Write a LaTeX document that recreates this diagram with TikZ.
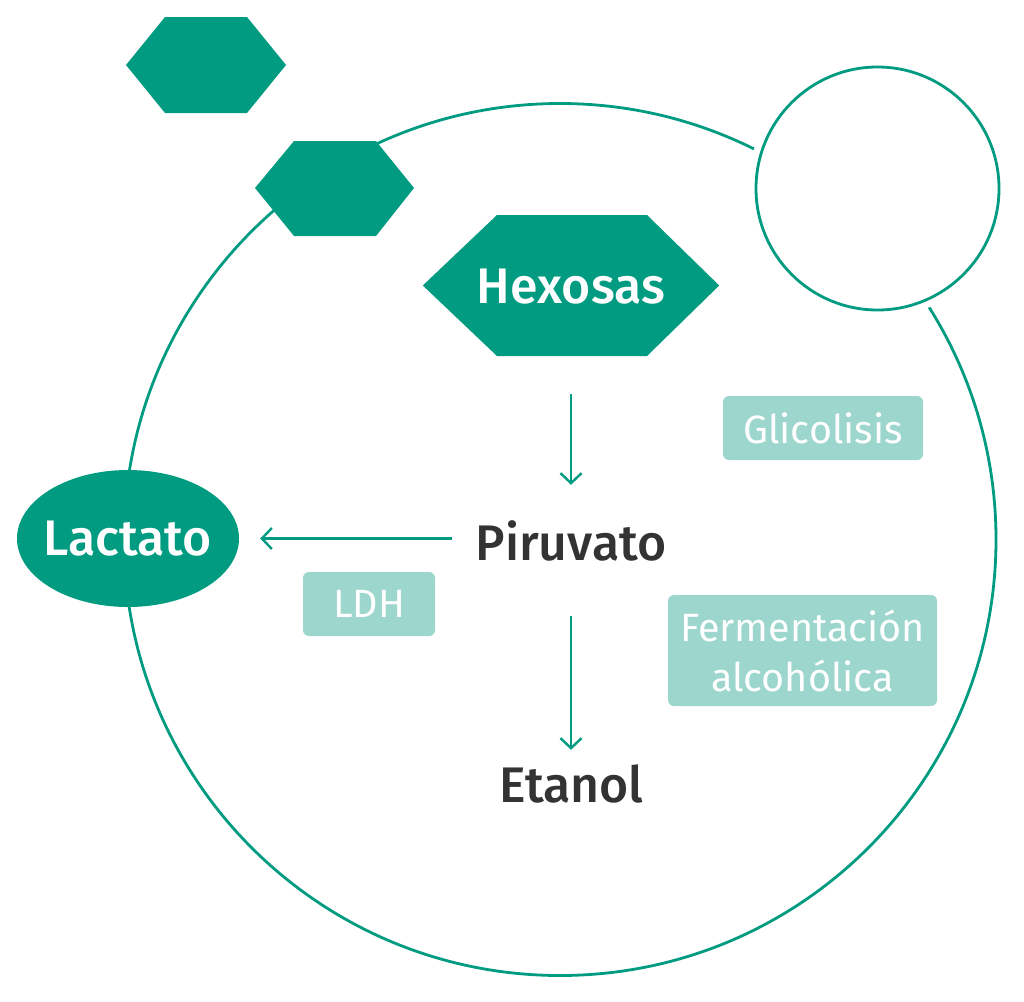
\documentclass[tikz,border=0pt]{standalone}
\usepackage{fontspec}
\setmainfont{Fira Sans}
\newfontfamily\medfont{Fira Sans Medium}
\usetikzlibrary{arrows.meta,shapes.geometric}
\definecolor{teal1}{HTML}{009B80}
\definecolor{teal2}{HTML}{9CD6CD}
\definecolor{txtdark}{HTML}{333333}
\tikzset{
  x=1pt,y=-1pt,
  ring/.style={draw=teal1,line width=2.8pt},
  hexfill/.style={fill=teal1,draw=none},
  conn/.style={draw=teal1,line width=2.4pt,-{Straight Barb[length=10pt,width=21pt,line width=2.4pt]}},
  bigtxt/.style={inner sep=0pt,text height=36pt,text depth=0pt,font=\medfont\fontsize{50}{60}\selectfont},
  lbl/.style={fill=teal2,draw=none,rounded corners=6pt,inner sep=0pt,text=white,align=center,font=\fontsize{39.5}{50}\selectfont},
}
\begin{document}
\begin{tikzpicture}
\useasboundingbox (0,0) rectangle (1024,1001);
% large cell circle
\draw[ring] (560,539.5) circle[radius=436];
% small circle with white gap
\draw[white,line width=16pt,fill=white] (877.5,188.5) circle[radius=121.5];
\draw[ring] (877.5,188.5) circle[radius=121.5];
% small hexagons
\fill[hexfill] (126,65) -- (165,17) -- (247,17) -- (286,65) -- (247,113) -- (165,113) -- cycle;
\fill[hexfill] (255,188) -- (294,141) -- (376,141) -- (414,188) -- (376,236) -- (294,236) -- cycle;
% Hexosas
\node[bigtxt,minimum width=296pt,minimum height=141pt] (hexosas) at (571,285.5) {};
\fill[hexfill] (hexosas.west) -- (497,215) -- (647,215) -- (hexosas.east) -- (647,356) -- (497,356) -- cycle;
\node[bigtxt,text=white] (hexosastxt) at (hexosas.center) {Hexosas};
% Lactato
\node[ellipse,fill=teal1,inner sep=0pt,minimum width=222pt,minimum height=137pt] (lactato) at (128,538.5) {};
\node[bigtxt,text=white] (lactatotxt) at (127.5,537) {Lactato};
% Piruvato, Etanol
\node[bigtxt,text=txtdark,minimum width=238pt,minimum height=60pt] (piruvato) at (571,542) {Piruvato};
\node[bigtxt,text=txtdark,minimum height=60pt] (etanol) at (571.5,784.5) {Etanol};
% labels
\node[lbl,minimum width=200pt,minimum height=64pt] (glic) at (823,428) {Glicolisis};
\node[lbl,minimum width=132pt,minimum height=64pt] (ldh) at (369,604) {LDH};
\node[lbl,minimum width=269pt,minimum height=111pt] (ferm) at (802.5,650.5) {Fermentación\\alcohólica};
% connectors
\draw[conn,shorten <=38pt,shorten >=27pt] (hexosas.south) -- (hexosas.south |- piruvato.north);
\draw[conn,shorten >=21pt] (piruvato.west |- lactato.east) -- (lactato.east);
\draw[conn,shorten <=44pt,shorten >=4.5pt] (piruvato.south) -- (piruvato.south |- etanol.north);
\end{tikzpicture}
\end{document}
